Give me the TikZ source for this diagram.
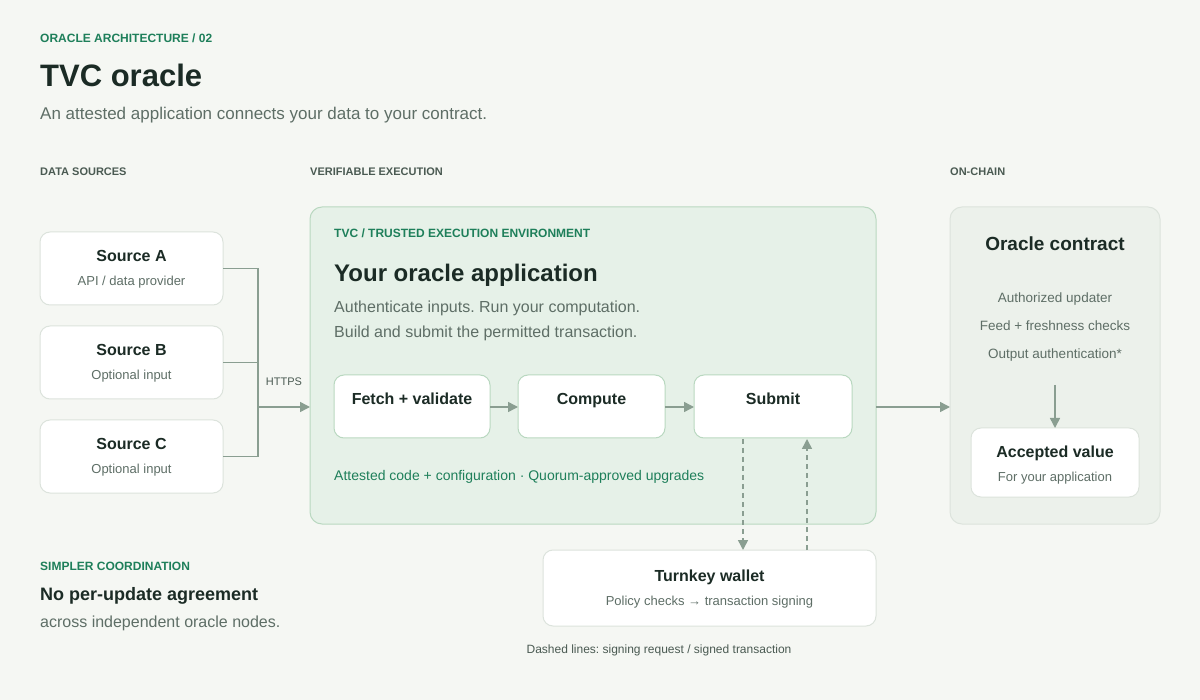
\documentclass[tikz,border=0pt]{standalone}
\usepackage{fontspec}
\setmainfont{Liberation Sans}
\usetikzlibrary{arrows.meta}
\definecolor{bg}{HTML}{F5F7F3}
\definecolor{grn}{HTML}{1E7F5A}
\definecolor{dark}{HTML}{1B2B25}
\definecolor{gry}{HTML}{5E6E66}
\definecolor{lbl}{HTML}{4A5A52}
\definecolor{bord}{HTML}{DCE3DC}
\definecolor{teefill}{HTML}{E6F1E8}
\definecolor{teebord}{HTML}{B9D8C0}
\definecolor{chainfill}{HTML}{ECF1EB}
\definecolor{arr}{HTML}{8A9E91}
\newcommand{\fs}[1]{\fontsize{#1}{#1}\selectfont}
\frenchspacing
\begin{document}
\begin{tikzpicture}[x=1pt,y=-1pt,
  card/.style={draw=bord,fill=white,rounded corners=10pt,line width=1pt},
  inner/.style={draw=teebord,fill=white,rounded corners=10pt,line width=1pt},
  txt/.style={inner sep=0pt,anchor=base west},
  ctxt/.style={inner sep=0pt,anchor=base},
  conn/.style={draw=arr,line width=1.5pt},
  tip/.style={-{Triangle[length=10pt,width=10pt]}},
  dashconn/.style={draw=arr,line width=1.5pt,dash pattern=on 5pt off 4pt}]
\path[fill=bg] (0,0) rectangle (1200,700);
\useasboundingbox (0,0) rectangle (1200,700);
% header
\node[txt,text=grn,font=\bfseries\fs{12}] (kick) at (40,43) {ORACLE ARCHITECTURE / 02};
\node[txt,text=dark,font=\bfseries\fs{31}] (title) at (40,87) {TVC oracle};
\node[txt,text=gry,font=\fs{17}] (sub) at (40,120) {An attested application connects your data to your contract.};
\node[txt,text=lbl,font=\bfseries\fs{11}] (l1) at (40,176) {DATA SOURCES};
\node[txt,text=lbl,font=\bfseries\fs{11}] (l2) at (310,176) {VERIFIABLE EXECUTION};
\node[txt,text=lbl,font=\bfseries\fs{11}] (l3) at (950,176) {ON-CHAIN};
% sources
\foreach \n/\y/\s in {A/232/{API / data provider},B/326/Optional input,C/420/Optional input}{
  \draw[card] (40,\y) rectangle (223,\y+73);
  \node[ctxt,text=dark,font=\bfseries\fs{16}] (s\n) at (131.5,\y+30) {Source \n};
  \node[ctxt,text=gry,font=\fs{13}] (s\n sub) at (131.5,\y+54) {\s};
  \coordinate (o\n) at (223,\y+36.5);
}
\coordinate (j) at (258,407);
\draw[conn] (oA) -| (j); \draw[conn] (oB) -- (258,362.5); \draw[conn] (oC) -| (j);
% TEE
\draw[draw=teebord,fill=teefill,rounded corners=12pt,line width=1pt] (310,207) rectangle (876,524);
\coordinate (teeL) at (310,407);
\draw[conn,tip] (j) -- (teeL);
\node[ctxt,text=lbl,font=\fs{11}] (https) at (284,386) {HTTPS};
\node[txt,text=grn,font=\bfseries\fs{12}] (teel) at (334,238) {TVC / TRUSTED EXECUTION ENVIRONMENT};
\node[txt,text=dark,font=\bfseries\fs{24}] (app) at (334,282) {Your oracle application};
\node[txt,text=gry,font=\fs{16}] (d1) at (334,313) {Authenticate inputs. Run your computation.};
\node[txt,text=gry,font=\fs{16}] (d2) at (334,338) {Build and submit the permitted transaction.};
\draw[inner] (334,375) rectangle (490,438);
\draw[inner] (518,375) rectangle (665,438);
\draw[inner] (694,375) rectangle (852,438);
\node[ctxt,text=dark,font=\bfseries\fs{16}] (fetch) at (412,405) {Fetch + validate};
\node[ctxt,text=dark,font=\bfseries\fs{16}] (comp) at (591.5,405) {Compute};
\node[ctxt,text=dark,font=\bfseries\fs{16}] (subm) at (773,405) {Submit};
\coordinate (f1) at (490,407); \coordinate (c0) at (518,407);
\coordinate (c1) at (665,407); \coordinate (s0) at (694,407);
\draw[conn,tip] (f1) -- (c0);
\draw[conn,tip] (c1) -- (s0);
\node[txt,text=grn,font=\fs{14}] (att) at (334,481) {Attested code + configuration · Quorum-approved upgrades};
% chain
\draw[draw=bord,fill=chainfill,rounded corners=12pt,line width=1pt] (950,207) rectangle (1160,524);
\coordinate (t1) at (876,407); \coordinate (ch0) at (950,407);
\draw[conn,tip] (t1) -- (ch0);
\node[ctxt,text=dark,font=\bfseries\fs{19}] (oc) at (1055,251) {Oracle contract};
\node[ctxt,text=gry,font=\fs{13.5}] (r1) at (1055,303) {Authorized updater};
\node[ctxt,text=gry,font=\fs{13.5}] (r2) at (1055,331) {Feed + freshness checks};
\node[ctxt,text=gry,font=\fs{13.5}] (r3) at (1055,359) {Output authentication*};
\draw[card] (971,428) rectangle (1139,497);
\coordinate (a0) at (1055,385); \coordinate (a1) at (1055,428);
\draw[conn,tip] (a0) -- (a1);
\node[ctxt,text=dark,font=\bfseries\fs{16}] (acc) at (1055,458) {Accepted value};
\node[ctxt,text=gry,font=\fs{13}] (accs) at (1055,482) {For your application};
% turnkey
\draw[card] (543,550) rectangle (876,626);
\node[ctxt,text=dark,font=\bfseries\fs{16}] (tk) at (709.5,581) {Turnkey wallet};
\node[ctxt,text=gry,font=\fs{13}] (tks) at (709.5,605) {Policy checks → transaction signing};
\coordinate (dd0) at (743,439); \coordinate (dd1) at (743,550);
\coordinate (du0) at (807,550); \coordinate (du1) at (807,439);
\draw[dashconn,tip] (dd0) -- (dd1);
\draw[dashconn,tip] (du0) -- (du1);
\node[ctxt,text=lbl,font=\fs{12}] (cap) at (659,653) {Dashed lines: signing request / signed transaction};
% bottom left
\node[txt,text=grn,font=\bfseries\fs{12}] (sc) at (40,570) {SIMPLER COORDINATION};
\node[txt,text=dark,font=\bfseries\fs{18}] (np) at (40,600) {No per-update agreement};
\node[txt,text=gry,font=\fs{16}] (ai) at (40,627) {across independent oracle nodes.};
\end{tikzpicture}
\end{document}
